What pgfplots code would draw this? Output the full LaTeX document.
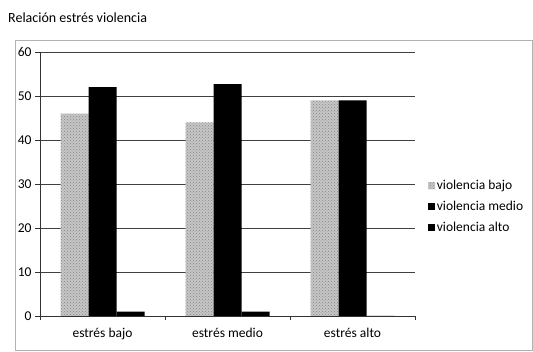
\documentclass[border=0pt]{standalone}
\usepackage{fontspec}
\setmainfont{Carlito}
\usepackage{pgfplots}
\pgfplotsset{compat=1.18}
\usetikzlibrary{patterns}
\begin{document}
\begin{tikzpicture}[x=1pt,y=1pt,font=\fontsize{13.5}{16}\selectfont]
\path[use as bounding box] (0,0) rectangle (533,352);
\draw[gray!60, line width=0.6pt] (15,312) rectangle (532.5,2);
\node[anchor=west, inner sep=0pt] at (8,334) {\fontsize{14}{16}\selectfont Relación estrés violencia};
\begin{axis}[
  at={(40pt,36pt)}, anchor=south west,
  width=375pt, height=264pt, scale only axis,
  ybar=0pt, bar width=28pt,
  xmin=-0.5, xmax=2.5, ymin=0, ymax=60,
  ytick={0,10,...,60},
  xtick={0,1,2}, xticklabels={estrés bajo, estrés medio, estrés alto},
  minor xtick={-0.5,0.5,1.5,2.5},
  major x tick style={draw=none},
  minor tick length=4pt, major tick length=5pt,
  tick align=outside,
  axis x line*=bottom, axis y line*=left,
  axis line style={-, black!80, line width=0.7pt},
  ymajorgrids, grid style={black!75, line width=0.6pt},
  tick style={black!80, line width=0.6pt},
  /pgf/number format/assume math mode=true,
  ticklabel style={font=\fontsize{13.5}{16}\selectfont},
  xticklabel style={yshift=-4pt},
  legend style={at={(1.035,0.415)}, anchor=west, draw=none, fill=none, inner xsep=0pt,
    font=\fontsize{13.5}{16}\selectfont, row sep=6pt,
    nodes={inner xsep=1.5pt}},
  legend cell align=left,
  legend image code/.code={\fill[#1] (0pt,-3.5pt) rectangle (7pt,3.5pt);},
]
\addplot[draw=none, fill=gray!45, postaction={pattern=crosshatch dots, pattern color=gray!95}] coordinates {(0,46) (1,44) (2,49)};
\addplot[draw=none, fill=black] coordinates {(0,52) (1,52.7) (2,49)};
\addplot[draw=none, fill=black] coordinates {(0,1) (1,1) (2,0)};
\legend{violencia bajo, violencia medio, violencia alto}
\end{axis}
\end{tikzpicture}
\end{document}
